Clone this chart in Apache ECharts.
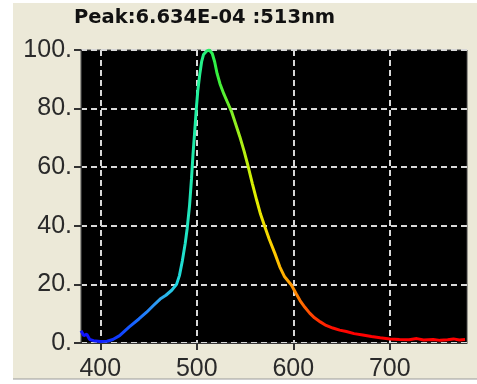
<!DOCTYPE html>
<html>
<head>
<meta charset="utf-8">
<script src="https://cdn.jsdelivr.net/npm/echarts@6/dist/echarts.min.js"></script>
<style>
  html, body { margin: 0; padding: 0; background: #fff; }
  #chart { width: 477px; height: 384px; }
</style>
</head>
<body>
<div id="chart"></div>
<script>
// Spectrum (wavelength nm, relative intensity %)
const wavelengths = [380, 383, 386, 389, 393, 400, 407, 413, 420, 430, 440, 448, 455, 462, 468, 474, 479, 482, 485, 488, 490, 492.5, 494.5, 496, 498, 499.5, 501, 503, 505, 507, 510, 513, 516, 518.5, 521, 524, 528, 532, 536, 540, 544.5, 549, 553, 557.5, 562, 566, 570.5, 575, 581, 586, 591, 598, 603, 607, 612, 617, 622, 628, 634, 641, 648, 655, 663, 672, 681, 690, 700, 710, 720, 728, 735, 745, 752, 760, 766, 772, 778];
const intensity = [4.2, 2.5, 3.0, 1.2, 0.8, 0.5, 0.6, 1.2, 2.5, 5.5, 8.2, 10.5, 12.8, 15.0, 16.3, 18.0, 20.0, 23.0, 28.0, 34.0, 39.0, 47.0, 56.0, 64.0, 73.0, 80.0, 86.0, 91.5, 96.0, 98.5, 99.6, 100.0, 98.8, 96.0, 92.0, 88.5, 85.0, 82.0, 79.0, 75.0, 70.5, 65.5, 60.5, 54.5, 48.8, 44.0, 39.7, 35.5, 30.5, 26.0, 22.6, 19.8, 16.8, 14.5, 12.2, 10.2, 8.6, 7.2, 6.0, 5.1, 4.4, 3.9, 3.2, 2.7, 2.2, 1.8, 1.4, 1.2, 1.1, 1.5, 1.0, 1.2, 0.9, 1.1, 1.4, 1.0, 1.2];
const xTicks = [400, 500, 600, 700];
const titleText = 'Peak:6.634E-04 :513nm';

// spectral colours every 20 nm from 380 to 780
const spectrum = ['#1010ff', '#1020ff', '#1040ff', '#1a70ff', '#30a0f0', '#20d8e0', '#20f0a0', '#30f040', '#90ee20', '#e0f000', '#ffcc00', '#ff9000', '#ff4000', '#ff1000', '#ff0000', '#ff0000', '#ff0000', '#ff0000', '#ff0000', '#ff0000', '#ff0000'];

const chart = echarts.init(document.getElementById('chart'));
const labelFont = { fontFamily: '"Liberation Sans Narrow", "Arial Narrow", "Liberation Sans", sans-serif', fontSize: 25, color: '#2a2a2a' };
const gridLine = { show: true, lineStyle: { color: '#d8d8d8', width: 2, type: [6, 4] } };

chart.setOption({
  backgroundColor: '#ffffff',
  animation: false,
  graphic: [
    { type: 'rect', z: -100, shape: { x: 13, y: 3, width: 470, height: 376 }, style: { fill: '#ece9d8' } },
    { type: 'line', z: -99, shape: { x1: 13, y1: 379, x2: 477, y2: 379 }, style: { stroke: '#9a9a9a', lineWidth: 1 } }
  ],
  title: {
    text: titleText,
    left: 74,
    top: 8,
    padding: 0,
    textStyle: { fontFamily: '"DejaVu Sans", sans-serif', fontWeight: 'bold', fontSize: 19.5, color: '#111' }
  },
  grid: {
    left: 81, top: 50, right: 10, bottom: 41,
    show: true, backgroundColor: '#000', borderColor: '#444', borderWidth: 1
  },
  visualMap: {
    type: 'continuous', show: false, dimension: 0, min: 380, max: 780,
    inRange: { color: spectrum }
  },
  xAxis: {
    type: 'value', min: 380, max: 780,
    axisLine: { show: true, lineStyle: { color: '#333' } },
    axisTick: { show: true, length: 7, lineStyle: { color: '#333', width: 2 }, customValues: xTicks },
    axisLabel: Object.assign({ margin: 14, customValues: xTicks }, labelFont),
    splitLine: gridLine
  },
  yAxis: {
    type: 'value', min: 0, max: 100, interval: 20,
    axisLine: { show: true, lineStyle: { color: '#333' } },
    axisTick: { show: true, length: 7, lineStyle: { color: '#333', width: 2 } },
    axisLabel: Object.assign({ margin: 9, formatter: (v) => v + '.' }, labelFont),
    splitLine: gridLine
  },
  series: [{
    type: 'line',
    data: wavelengths.map((w, i) => [w, intensity[i]]),
    showSymbol: false,
    lineStyle: { width: 3 },
    z: 5
  }]
});
</script>
</body>
</html>
